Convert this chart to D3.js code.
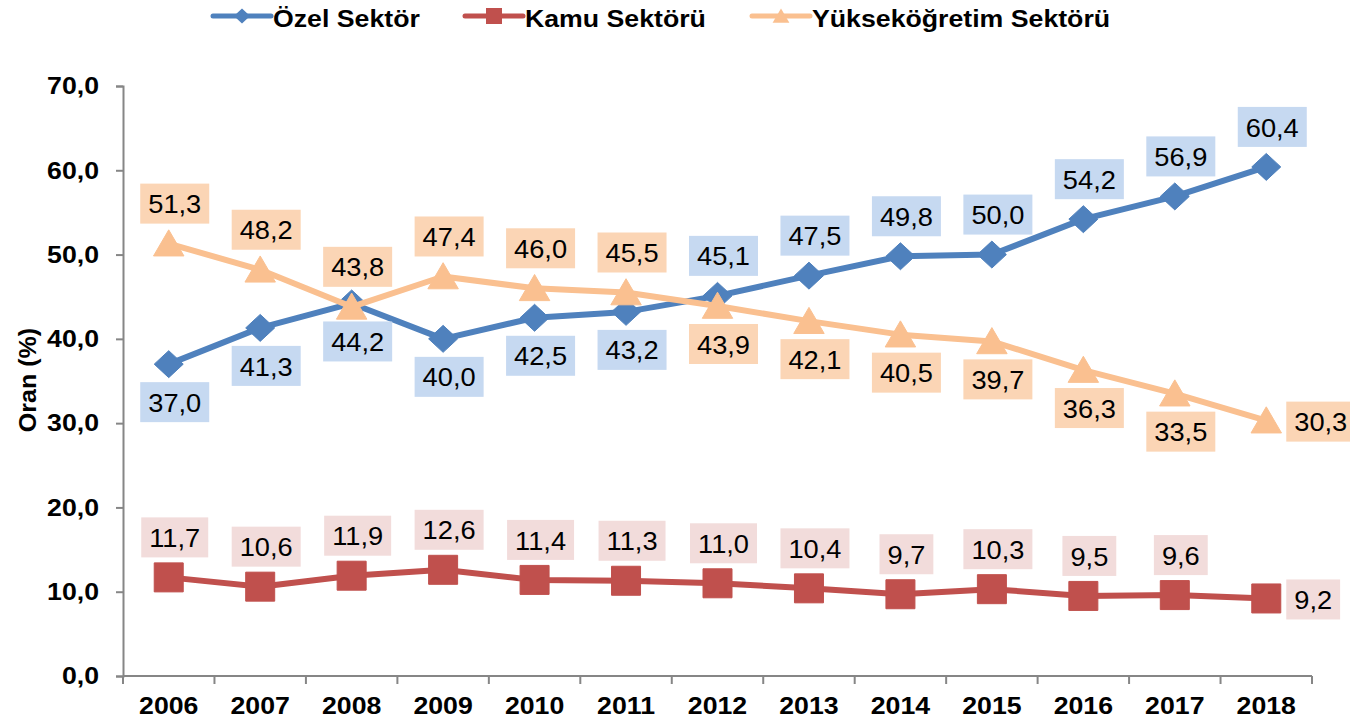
<!DOCTYPE html>
<html>
<head>
<meta charset="utf-8">
<script src="https://cdn.jsdelivr.net/npm/d3@7"></script>
<style>
    body { margin: 0; background: #fff; }
    text { font-family: "Liberation Sans", Arial, sans-serif; }
</style>
</head>
<body>
<div id="chart"></div>
<script>
// Data
const years = ["2006","2007","2008","2009","2010","2011","2012","2013","2014","2015","2016","2017","2018"]

const ozel = [37.0, 41.3, 44.2, 40.0, 42.5, 43.2, 45.1, 47.5, 49.8, 50.0, 54.2, 56.9, 60.4]
const kamu = [11.7, 10.6, 11.9, 12.6, 11.4, 11.3, 11.0, 10.4, 9.7, 10.3, 9.5, 9.6, 9.2]
const yuksek = [51.3, 48.2, 43.8, 47.4, 46.0, 45.5, 43.9, 42.1, 40.5, 39.7, 36.3, 33.5, 30.3]

// where each data label sits
const ozelPos = ["below","below","below","below","below","below","above","above","above","above","above","above","above"]
const kamuPos = ["above","above","above","above","above","above","above","above","above","above","above","above","right"]
const yuksekPos = ["above","above","above","above","above","above","below","below","below","below","below","below","right"]

const yTicks = [0, 10, 20, 30, 40, 50, 60, 70]

const series = [
    { name: "Özel Sektör", values: ozel, pos: ozelPos, color: "#4F81BD", fill: "#C6D9F1", marker: "diamond" },
    { name: "Kamu Sektörü", values: kamu, pos: kamuPos, color: "#C0504D", fill: "#F2DCDB", marker: "square" },
    { name: "Yükseköğretim Sektörü", values: yuksek, pos: yuksekPos, color: "#FAC090", fill: "#FBD5B5", marker: "triangle" },
]

// Dimensions
let dimensions = {
    width: 1350,
    height: 723,
    margin: { top: 86, right: 38, bottom: 47, left: 123 },
}
dimensions.boundedWidth = dimensions.width - dimensions.margin.left - dimensions.margin.right
dimensions.boundedHeight = dimensions.height - dimensions.margin.top - dimensions.margin.bottom

const fmt = v => v.toFixed(1).replace(".", ",")
const stretch = 1.09 // the source text is a bit wide

// Scales
const xScale = d3.scalePoint()
    .domain(years)
    .range([0, dimensions.boundedWidth])
    .padding(0.5)

const yScale = d3.scaleLinear()
    .domain([0, 70])
    .range([dimensions.boundedHeight, 0])

const markerPath = (type, s) => {
    if (type === "diamond") return `M0,${-s*0.93}L${s},0L0,${s*0.93}L${-s},0Z`
    if (type === "square") return `M${-s},${-s}H${s}V${s}H${-s}Z`
    return `M0,${-s*0.95}L${s*1.05},${s*0.85}L${-s*1.05},${s*0.85}Z`
}

function drawChart() {
    const wrapper = d3.select("#chart")
        .append("svg")
        .attr("width", dimensions.width)
        .attr("height", dimensions.height)

    const bounds = wrapper.append("g")
        .attr("transform", `translate(${dimensions.margin.left},${dimensions.margin.top})`)

    // y axis
    const yAxisGenerator = d3.axisLeft(yScale)
        .tickValues(yTicks)
        .tickFormat(fmt)
        .tickSizeOuter(0)
        .tickSize(7)
        .tickPadding(17)

    const yAxis = bounds.append("g").call(yAxisGenerator)
    yAxis.select(".domain").attr("stroke", "#868686").attr("stroke-width", 2)
    yAxis.selectAll(".tick line").attr("stroke", "#868686").attr("stroke-width", 2)
    yAxis.selectAll(".tick text")
        .attr("x", 0)
        .attr("transform", `translate(-24,0) scale(${stretch},1)`)
        .attr("fill", "#000")
        .style("font-size", "24.5px")
        .style("font-weight", "bold")

    // x axis: ticks between categories
    const step = xScale.step()
    const xAxis = bounds.append("g")
        .attr("transform", `translate(0,${dimensions.boundedHeight})`)
    xAxis.append("line")
        .attr("x1", 0).attr("x2", dimensions.boundedWidth)
        .attr("stroke", "#868686").attr("stroke-width", 2)
    xAxis.selectAll(".xtick")
        .data(d3.range(years.length + 1))
        .join("line")
        .attr("x1", i => xScale(years[0]) - step / 2 + i * step)
        .attr("x2", i => xScale(years[0]) - step / 2 + i * step)
        .attr("y1", 0).attr("y2", 8)
        .attr("stroke", "#868686").attr("stroke-width", 2)
    xAxis.selectAll(".xlabel")
        .data(years)
        .join("text")
        .attr("transform", d => `translate(${xScale(d)},38) scale(${stretch},1)`)
        .attr("text-anchor", "middle")
        .style("font-size", "24.5px")
        .style("font-weight", "bold")
        .text(d => d)

    // y axis title
    wrapper.append("text")
        .attr("transform", `translate(36,380) rotate(-90) scale(${stretch},1)`)
        .attr("text-anchor", "middle")
        .style("font-size", "23px")
        .style("font-weight", "bold")
        .text("Oran (%)")

    const line = d3.line()
        .x((d, i) => xScale(years[i]))
        .y(d => yScale(d))

    // lines and markers
    series.forEach(s => {
        const g = bounds.append("g")
        g.append("path")
            .attr("d", line(s.values))
            .attr("fill", "none")
            .attr("stroke", s.color)
            .attr("stroke-width", 6)
            .attr("stroke-linejoin", "round")
        g.selectAll("path.marker")
            .data(s.values)
            .join("path")
            .attr("class", "marker")
            .attr("transform", (d, i) => `translate(${xScale(years[i])},${yScale(d)})`)
            .attr("d", markerPath(s.marker, 14.5))
            .attr("fill", s.color)
            .attr("stroke", s.color)
            .attr("stroke-width", 1)
            .attr("stroke-linejoin", "round")
    })

    // data labels
    series.forEach(s => {
        const g = bounds.append("g")
        s.values.forEach((v, i) => {
            const px = xScale(years[i])
            const py = yScale(v)
            const label = g.append("g")
            const txt = label.append("text")
                .attr("text-anchor", "middle")
                .attr("dominant-baseline", "central")
                .attr("transform", `scale(${stretch},1)`)
                .style("font-size", "25px")
                .attr("fill", "#000")
                .text(fmt(v))
            const w = txt.node().getComputedTextLength() * stretch + 16
            const h = 40
            let cx = px + 6, cy = py
            if (s.pos[i] === "above") cy = py - 40
            else if (s.pos[i] === "below") cy = py + 38
            else { cx = px + 20 + w / 2; cy = py + 1 }
            label.insert("rect", "text")
                .attr("x", -w / 2).attr("y", -h / 2)
                .attr("width", w).attr("height", h)
                .attr("fill", s.fill)
            txt.attr("y", 1)
            label.attr("transform", `translate(${cx},${cy})`)
        })
    })

    // legend
    const legendX = [213, 465, 752]
    const legend = wrapper.append("g")
    series.forEach((s, i) => {
        const lg = legend.append("g").attr("transform", `translate(${legendX[i]},16)`)
        lg.append("line")
            .attr("x1", 0).attr("x2", 58)
            .attr("stroke", s.color).attr("stroke-width", 5)
            .attr("stroke-linecap", "round")
        lg.append("path")
            .attr("transform", "translate(29,0)")
            .attr("d", markerPath(s.marker, 8))
            .attr("fill", s.color)
        lg.append("text")
            .attr("transform", `translate(60,11) scale(${stretch},1)`)
            .style("font-size", "24.5px")
            .style("font-weight", "bold")
            .text(s.name)
    })
}

drawChart()
</script>
</body>
</html>
